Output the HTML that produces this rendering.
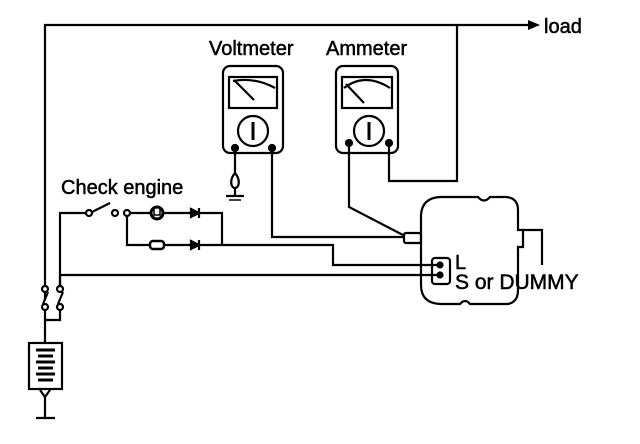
<!DOCTYPE html>
<html><head><style>body{margin:0;background:#fff}svg{display:block}text{font-family:"Liberation Sans",Arial,sans-serif;fill:#000;stroke:#000;stroke-width:0.5}</style></head>
<body>
<svg width="640" height="444" viewBox="0 0 640 444" xmlns="http://www.w3.org/2000/svg" fill="none" stroke="#000" stroke-width="2.2">
<polyline points="45,300 45,25 530,25"/>
<polygon points="528,20 540,25 528,30" fill="#000" stroke="none"/>
<text x="544" y="33" font-size="20">load</text>
<polyline points="457,25 457,181 389,181 389,145"/>
<text x="209" y="55" font-size="20">Voltmeter</text>
<rect x="223" y="66" width="60" height="87" rx="7"/>
<rect x="229" y="77" width="48" height="31"/>
<path d="M233,81 Q255,77 275,88"/><line x1="234" y1="80" x2="254" y2="100"/>
<circle cx="253" cy="131" r="15"/><line x1="253" y1="122" x2="253" y2="140" stroke-width="3"/>
<circle cx="235" cy="148" r="3" fill="#000"/><circle cx="272" cy="148" r="3" fill="#000"/>
<polyline points="235,148 235,173"/><path d="M235,173 C229,180 231,188 235,188 C239,188 241,180 235,173Z"/>
<line x1="235" y1="188" x2="235" y2="196"/><line x1="226" y1="196" x2="244" y2="196"/><line x1="229" y1="200" x2="241" y2="200" stroke-width="1.5"/>
<polyline points="272,148 272,237 404,237"/>
<text x="326" y="55" font-size="20">Ammeter</text>
<rect x="336" y="66" width="62" height="87" rx="7"/>
<rect x="342" y="77" width="50" height="31"/>
<path d="M344,88 Q365,72 390,88"/><line x1="346" y1="84" x2="364" y2="103"/>
<circle cx="369" cy="131" r="15"/><line x1="369" y1="122" x2="369" y2="140" stroke-width="3"/>
<circle cx="349" cy="143" r="3" fill="#000"/><circle cx="389" cy="143" r="3" fill="#000"/>
<polyline points="349,143 349,207 403,235"/>
<text x="61" y="194" font-size="20">Check engine</text>
<polyline points="60,285 60,213 85,213"/>
<circle cx="89" cy="213" r="3" fill="#fff"/><line x1="92" y1="212" x2="110" y2="203"/>
<circle cx="115" cy="213" r="3" fill="#fff"/><circle cx="127" cy="213" r="3" fill="#fff"/>
<line x1="130" y1="213" x2="150" y2="213"/>
<circle cx="157" cy="213" r="6" stroke-width="3"/><path d="M154,209 L154,215 L160,215 L160,209" stroke-width="1.5"/>
<polyline points="163,213 222,213 222,245"/>
<polygon points="191,209 199,213 191,217" fill="#000"/><line x1="199" y1="208" x2="199" y2="218"/>
<polyline points="127,216 127,245 150,245"/>
<rect x="150" y="241" width="14" height="8" rx="3" stroke-width="2.5"/>
<polyline points="164,245 333,245 333,265 440,265"/>
<polygon points="191,241 199,245 191,249" fill="#000"/><line x1="199" y1="240" x2="199" y2="250"/>
<polyline points="60,275 440,275"/>
<circle cx="45" cy="289" r="3" fill="#fff"/><circle cx="45" cy="307" r="3" fill="#fff"/><line x1="48" y1="292" x2="43" y2="304"/>
<circle cx="60" cy="289" r="3" fill="#fff"/><circle cx="60" cy="307" r="3" fill="#fff"/><line x1="63" y1="292" x2="58" y2="304"/>
<line x1="60" y1="286" x2="60" y2="275"/>
<polyline points="60,310 60,320 45,320"/><line x1="45" y1="310" x2="45" y2="343"/>
<rect x="29" y="343" width="33" height="46"/>
<g stroke-width="3"><line x1="36" y1="350" x2="55" y2="350"/><line x1="38" y1="356" x2="53" y2="356"/><line x1="36" y1="362" x2="55" y2="362"/><line x1="38" y1="368" x2="53" y2="368"/><line x1="36" y1="374" x2="55" y2="374"/><line x1="38" y1="380" x2="53" y2="380"/></g>
<polyline points="40,390 45,397 50,390"/>
<line x1="45" y1="397" x2="45" y2="418"/><line x1="36" y1="418" x2="55" y2="418"/>
<path d="M440,197 L478,197 Q484,204 490,197 L506,197 Q518,198 518,210 L518,230 L523,230 L523,247 L518,247 L518,290 Q518,302 508,304 L470,304 Q465,298 460,304 L440,304 Q421,303 421,285 L421,215 Q422,198 440,197 Z"/>
<polyline points="523,230 542,230 542,265"/>
<rect x="404" y="233" width="17" height="10" rx="2"/>
<rect x="432" y="258" width="18" height="26" rx="3"/>
<circle cx="440" cy="265" r="2.5" fill="#000"/><circle cx="440" cy="275" r="2.5" fill="#000"/>
<text x="455" y="269" font-size="20">L</text>
<text x="455" y="289" font-size="21">S or DUMMY</text>
</svg>
</body></html>
